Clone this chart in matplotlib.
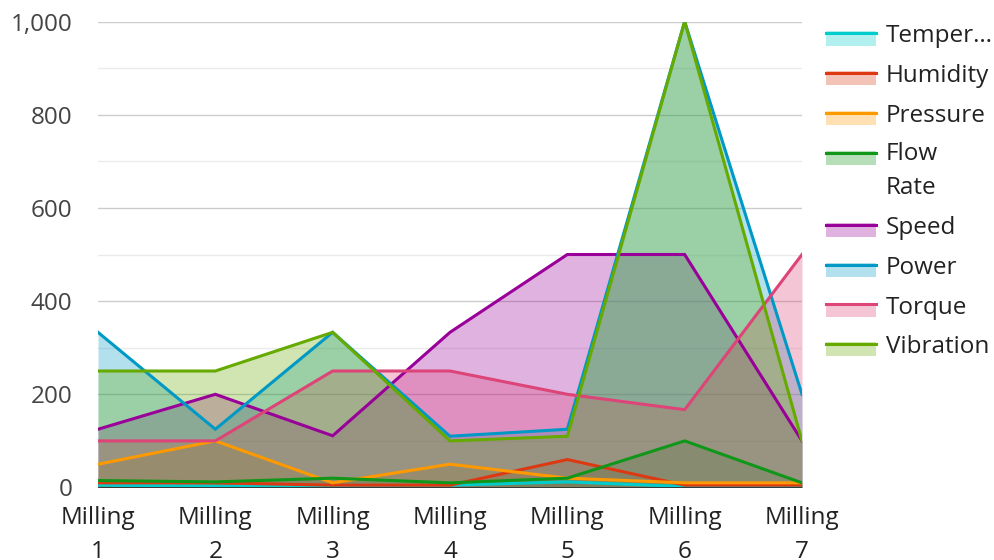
import matplotlib
matplotlib.use("Agg")
import matplotlib.pyplot as plt
from matplotlib.patches import Rectangle
from matplotlib.lines import Line2D
from matplotlib.ticker import MultipleLocator, StrMethodFormatter

plt.rcParams['font.family'] = ['Open Sans', 'DejaVu Sans']

categories = ["Milling 1", "Milling 2", "Milling 3", "Milling 4", "Milling 5", "Milling 6", "Milling 7"]
series_names = ["Temperature", "Humidity", "Pressure", "Flow Rate", "Speed", "Power", "Torque", "Vibration"]
legend_labels = ["Temper\u2026", "Humidity", "Pressure", "Flow\nRate", "Speed", "Power", "Torque", "Vibration"]
colors = ["#00cccc", "#dc3912", "#ff9900", "#109618", "#990099", "#0099c6", "#dd4477", "#66aa00"]

temperature = [5, 3, 2, 5, 12, 2, 2]
humidity = [10, 10, 5, 5, 60, 5, 5]
pressure = [50, 100, 10, 50, 20, 10, 10]
flow_rate = [15, 12, 20, 10, 20, 100, 10]
speed = [125, 200, 111, 333, 500, 500, 100]
power = [333, 125, 333, 110, 125, 1000, 200]
torque = [100, 100, 250, 250, 200, 167, 500]
vibration = [250, 250, 333, 100, 110, 1000, 100]
values = [temperature, humidity, pressure, flow_rate, speed, power, torque, vibration]

W, H = 995, 560
FS = 17.5
fig = plt.figure(figsize=(W / 100, H / 100), dpi=100)
ax = fig.add_axes([98 / W, 1 - 487.5 / H, (802 - 98) / W, 466 / H])

x = list(range(len(categories)))

# areas first, then lines on top
for vals, c in zip(values, colors):
    ax.fill_between(x, 0, vals, color=c, alpha=0.3, linewidth=0, zorder=2)
for vals, c in zip(values, colors):
    ax.plot(x, vals, color=c, linewidth=2.2, zorder=3, solid_joinstyle='miter')

ax.set_xlim(0, len(categories) - 1)
ax.set_ylim(0, 1000)
ax.yaxis.set_major_locator(MultipleLocator(200))
ax.yaxis.set_minor_locator(MultipleLocator(100))
ax.yaxis.set_major_formatter(StrMethodFormatter('{x:,.0f}'))
ax.grid(axis='y', which='major', color='#cccccc', linewidth=1, zorder=0)
ax.grid(axis='y', which='minor', color='#ebebeb', linewidth=1, zorder=0)
ax.set_axisbelow(True)
ax.axhline(0, color='#333333', linewidth=1.3, zorder=4)

for s in ax.spines.values():
    s.set_visible(False)

ax.set_xticks(x)
ax.set_xticklabels([c.replace(" ", "\n") for c in categories], linespacing=1.55)
ax.tick_params(axis='x', length=0, pad=13.5, labelsize=FS, labelcolor='#222222')
ax.tick_params(axis='y', which='both', length=0, pad=18.5, labelsize=FS, labelcolor='#444444')

# legend, drawn by hand in pixel positions
def fx(px):
    return px / W

def fy(py):
    return 1 - py / H

line_ys = [33, 72.5, 112.5, 152.5, 224.5, 264.5, 304, 343.5]
for label, c, ly in zip(legend_labels, colors, line_ys):
    fig.patches.append(Rectangle((fx(826), fy(ly + 12.5)), fx(876) - fx(826), (14 / H),
                                 transform=fig.transFigure, facecolor=c, alpha=0.3, linewidth=0))
    fig.lines.append(Line2D([fx(826), fx(876)], [fy(ly), fy(ly)], transform=fig.transFigure,
                            color=c, linewidth=2.2))
    if "\n" in label:
        fig.text(fx(886), fy(ly - 10), label, fontsize=FS, color='#222222',
                 va='top', ha='left', linespacing=1.5)
    else:
        fig.text(fx(886), fy(ly + 9.5), label, fontsize=FS, color='#222222',
                 va='baseline', ha='left')

fig.savefig("out.png", dpi=100)
